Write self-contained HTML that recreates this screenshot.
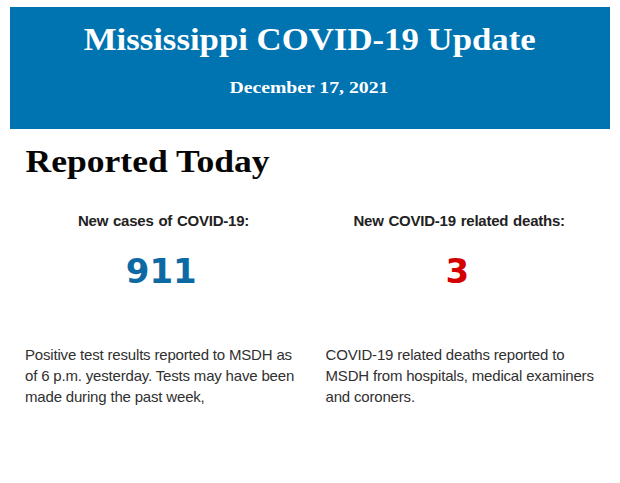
<!DOCTYPE html>
<html>
<head>
<meta charset="utf-8">
<style>
html,body{margin:0;padding:0;background:#fff;}
body{width:620px;height:483px;position:relative;overflow:hidden;font-family:"Liberation Sans",sans-serif;}
.banner{position:absolute;left:10px;top:7px;width:600px;height:122px;background:#0073b1;}
svg{position:absolute;left:0;top:0;}
.t{position:absolute;white-space:nowrap;line-height:1;}
.lab{font-weight:bold;font-size:15px;color:#222;letter-spacing:-0.23px;word-spacing:0.9px;}
#lab1{left:78px;top:213px;}
#lab2{left:353.5px;top:213px;}
.p{position:absolute;font-size:15px;line-height:21px;color:#303030;white-space:nowrap;letter-spacing:-0.18px;}
#p1{left:25px;top:344px;}
#p2{left:325.5px;top:344px;}
</style>
</head>
<body>
<div class="banner"></div>
<svg width="620" height="483" viewBox="0 0 620 483">
<text id="title" x="309.7" y="49.7" text-anchor="middle" textLength="452" lengthAdjust="spacingAndGlyphs" font-family="'Liberation Serif',serif" font-weight="bold" font-size="32" fill="#fff">Mississippi COVID-19 Update</text>
<text id="date" x="308.9" y="93.3" text-anchor="middle" textLength="159" lengthAdjust="spacingAndGlyphs" font-family="'Liberation Serif',serif" font-weight="bold" font-size="17.5" fill="#fff">December 17, 2021</text>
<text id="rep" x="25.5" y="171.6" textLength="244" lengthAdjust="spacingAndGlyphs" font-family="'Liberation Serif',serif" font-weight="bold" font-size="31.5" fill="#060606">Reported Today</text>
<text id="n1" x="161.3" y="282.6" text-anchor="middle" font-family="'DejaVu Sans','Liberation Sans',sans-serif" font-weight="bold" font-size="34" fill="#0c69a4">911</text>
<text id="n2" x="457.3" y="282.6" text-anchor="middle" font-family="'DejaVu Sans','Liberation Sans',sans-serif" font-weight="bold" font-size="34" fill="#d40000">3</text>
</svg>
<div class="t lab" id="lab1">New cases of COVID-19:</div>
<div class="t lab" id="lab2">New COVID-19 related deaths:</div>
<div class="p" id="p1">Positive test results reported to MSDH as<br>of 6 p.m. yesterday. Tests may have been<br>made during the past week,</div>
<div class="p" id="p2">COVID-19 related deaths reported to<br>MSDH from hospitals, medical examiners<br>and coroners.</div>
</body>
</html>
